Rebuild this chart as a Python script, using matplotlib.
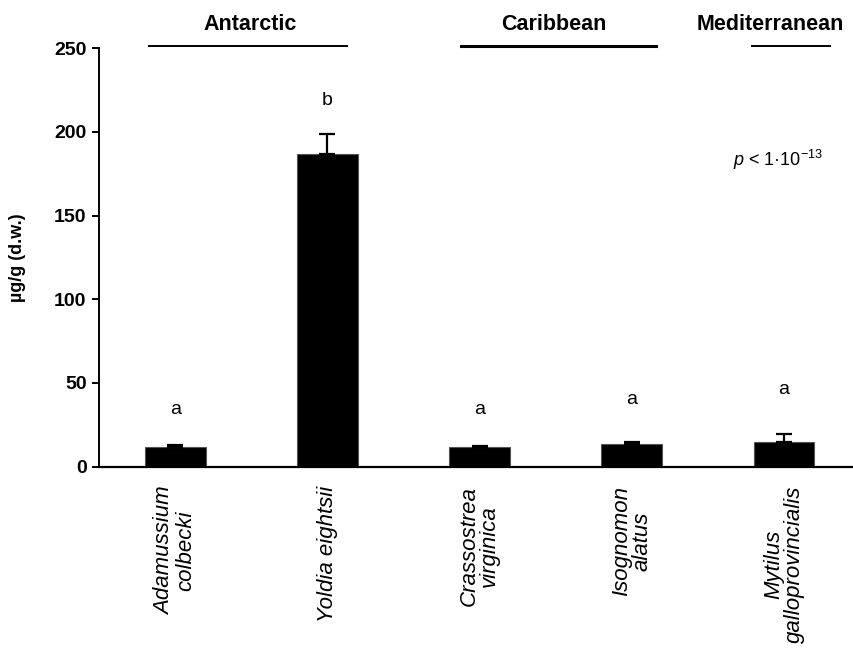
import numpy as np
import matplotlib
matplotlib.use("Agg")
import matplotlib.pyplot as plt

plt.rcParams['font.family'] = ['Liberation Sans', 'DejaVu Sans']
plt.rcParams['mathtext.fontset'] = 'custom'
plt.rcParams['mathtext.rm'] = 'Liberation Sans'
plt.rcParams['mathtext.it'] = 'Liberation Sans:italic'

# Datos
especies = ["Adamussium\ncolbecki", "Yoldia eightsii", "Crassostrea\nvirginica",
            "Isognomon\nalatus", "Mytilus\ngalloprovincialis"]
valores = [11.5, 187.0, 11.5, 13.6, 14.6]
errores = [1.2, 12.0, 0.9, 0.9, 4.7]
letras = ["a", "b", "a", "a", "a"]
pos_letras = [34, 219, 34, 40, 46]

regiones = ["Antarctic", "Caribbean", "Mediterranean"]
region_ini = [-0.17, 1.88, 3.79]
region_fin = [1.13, 3.16, 4.30]
region_txt = [0.49, 2.49, 3.91]

fig = plt.figure(figsize=(8.54, 6.48), dpi=100)
ax = fig.add_axes([0.116, 0.280, 0.884, 0.6455])

x = np.arange(len(especies))
ax.bar(x, valores, width=0.40, color="black", edgecolor="#555555", linewidth=0.8, zorder=2)
ax.errorbar(x, valores, yerr=[np.zeros(len(errores)), errores], fmt="none",
            ecolor="black", elinewidth=1.6, capsize=5.5, capthick=1.6, zorder=3)

for xi, letra, yl in zip(x, letras, pos_letras):
    ax.text(xi, yl, letra, ha="center", va="center", fontsize=14)

ax.text(3.96, 183, r"$p$ < 1·10$^{-13}$", ha="center", va="center", fontsize=13)

grosor = [1.4, 2.2, 1.4]
for nombre, a, b, t, lw in zip(regiones, region_ini, region_fin, region_txt, grosor):
    ax.plot([a, b], [251.5, 251.5], color="black", linewidth=lw, clip_on=False)
    ax.text(t, 264, nombre, ha="center", va="center", fontsize=15.5,
            fontweight="bold")

ax.set_xlim(-0.5, 4.46)
ax.set_ylim(0, 250)
ax.set_yticks([0, 50, 100, 150, 200, 250])
ax.set_xticks(x)
ax.set_xticklabels(especies, rotation=90, style="italic", fontsize=16,
                   va="top", ha="center", linespacing=0.95,
                   multialignment="center")
ax.tick_params(axis="x", length=0, pad=14)
ax.tick_params(axis="y", length=5, width=1.4, direction="out", pad=4)
for lab in ax.get_yticklabels():
    lab.set_fontweight("bold")
    lab.set_fontsize(14)

ax.set_ylabel("µg/g (d.w.)", fontsize=13, fontweight="bold", labelpad=20)

for s in ["top", "right"]:
    ax.spines[s].set_visible(False)
ax.spines["left"].set_linewidth(1.4)
ax.spines["bottom"].set_linewidth(1.6)

fig.savefig("out.png", dpi=100)
